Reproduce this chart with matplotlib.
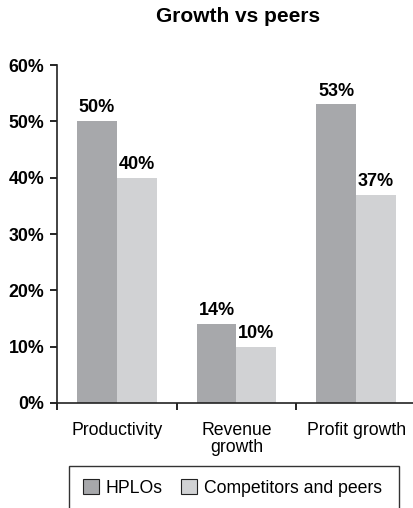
import matplotlib.pyplot as plt
import matplotlib.patches as mpatches
import numpy as np

plt.rcParams['font.family'] = ['Liberation Sans', 'DejaVu Sans']

categories = ["Productivity", "Revenue\ngrowth", "Profit growth"]
hplos = [50, 14, 53]
competitors = [40, 10, 37]
series_names = ["HPLOs", "Competitors and peers"]

dark_grey = "#a7a8ab"
light_grey = "#d1d2d4"

fig = plt.figure(figsize=(4.14, 5.08), dpi=100)
ax = fig.add_axes([0.1377, 0.2067, 0.867, 0.6653])

x = np.arange(len(categories))
w = 1 / 3
b1 = ax.bar(x - w / 2, hplos, w, color=dark_grey, label=series_names[0])
b2 = ax.bar(x + w / 2, competitors, w, color=light_grey, label=series_names[1])

# value labels above each bar
for bars, vals in ((b1, hplos), (b2, competitors)):
    for rect, v in zip(bars, vals):
        ax.annotate(f"{v}%", (rect.get_x() + rect.get_width() / 2, v),
                    xytext=(0, 3.5), textcoords="offset points",
                    ha="center", va="bottom", fontsize=13, fontweight="bold")

ax.set_xlim(-0.5, 2.5)
ax.set_ylim(0, 60)
ax.set_yticks(range(0, 61, 10))
ax.set_yticklabels([f"{t}%" for t in range(0, 61, 10)], fontsize=12.8, fontweight="bold")

# category names at centres, tick marks at group boundaries
ax.set_xticks(x)
ax.set_xticklabels(categories, fontsize=12.7, linespacing=1.0)
ax.tick_params(axis="x", which="major", length=0, pad=14)
ax.set_xticks([-0.5, 0.5, 1.5], minor=True)
ax.tick_params(axis="x", which="minor", length=5, width=1.2, direction="out")
ax.tick_params(axis="y", length=5, width=1.2, direction="out", pad=4)

for s in ("top", "right"):
    ax.spines[s].set_visible(False)
for s in ("left", "bottom"):
    ax.spines[s].set_linewidth(1.2)
    ax.spines[s].set_color("#222222")

fig.text(0.575, 0.967, "Growth vs peers", ha="center", va="center",
         fontsize=15, fontweight="bold")

# legend box, runs off the bottom edge
fig.patches.append(mpatches.Rectangle((69 / 414, -0.05), (399 - 69) / 414, 0.05 + 42 / 508,
                                      transform=fig.transFigure, fill=False,
                                      edgecolor="#333333", linewidth=1.0))
handles = [mpatches.Patch(facecolor=dark_grey, edgecolor="#222222", linewidth=0.8),
           mpatches.Patch(facecolor=light_grey, edgecolor="#222222", linewidth=0.8)]
fig.legend(handles, series_names, loc="center", bbox_to_anchor=(0.561, 0.039),
           ncol=2, frameon=False, fontsize=12.7, handlelength=0.92, handleheight=0.92,
           handletextpad=0.4, columnspacing=1.0)

fig.savefig("out.png", dpi=100)
